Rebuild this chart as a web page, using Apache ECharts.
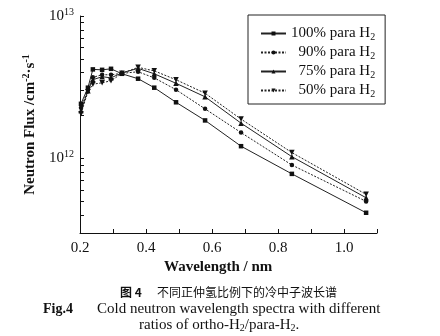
<!DOCTYPE html>
<html>
<head>
<meta charset="utf-8">
<script src="https://cdn.jsdelivr.net/npm/echarts@6/dist/echarts.min.js"></script>
<style>
  html, body { margin: 0; padding: 0; background: #fff; }
  #chart { width: 440px; height: 336px; }
</style>
</head>
<body>
<div id="chart"></div>
<script>
// Wavelength bins (nm)
var wavelength = [0.203, 0.224, 0.239, 0.267, 0.294, 0.327, 0.376, 0.425, 0.491, 0.579, 0.688, 0.842, 1.067];

// Neutron flux (cm^-2 s^-1) for each para-H2 fraction
var flux100 = [2.42e12, 3.14e12, 4.22e12, 4.19e12, 4.26e12, 3.93e12, 3.63e12, 3.14e12, 2.48e12, 1.85e12, 1.22e12, 7.8e11, 4.16e11];
var flux90  = [2.27e12, 3.04e12, 3.71e12, 3.87e12, 3.87e12, 3.96e12, 4.06e12, 3.68e12, 3.04e12, 2.23e12, 1.52e12, 9.0e11, 5.0e11];
var flux75  = [2.17e12, 2.99e12, 3.57e12, 3.75e12, 3.68e12, 3.99e12, 4.29e12, 3.93e12, 3.37e12, 2.71e12, 1.77e12, 1.03e12, 5.3e11];
var flux50  = [2.06e12, 2.94e12, 3.32e12, 3.40e12, 3.51e12, 3.96e12, 4.36e12, 4.12e12, 3.57e12, 2.87e12, 1.89e12, 1.10e12, 5.6e11];

var seriesNames = ['100% para H2', '90% para H2', '75% para H2', '50% para H2'];
var legendLabels = ['100% para H', '  90% para H', '  75% para H', '  50% para H'];

// Axis tick values
var xMin = 0.2, xMax = 1.1, xStep = 0.1;
var yMin = 3e11, yMax = 1e13;
var yLabelValues = [1e12, 1e13];
var yTickValues = [3e11, 4e11, 5e11, 6e11, 7e11, 8e11, 9e11, 1e12, 2e12, 3e12, 4e12, 5e12, 6e12, 7e12, 8e12, 9e12, 1e13];

var serif = '"Liberation Serif", "DejaVu Serif", serif';
var cjk = '"Noto Sans CJK SC", sans-serif';

function pairs(ys) {
  return wavelength.map(function (x, i) { return [x, ys[i]]; });
}

var styles = [
  { symbol: 'rect', size: 4.5, line: 'solid' },
  { symbol: 'circle', size: 4.5, line: [2, 1.5] },
  { symbol: 'triangle', size: 5.5, line: 'solid' },
  { symbol: 'path://M0,0 L10,0 L5,9 Z', size: 5.5, line: [2, 1.5] }
];
var datasets = [flux100, flux90, flux75, flux50];

var series = datasets.map(function (d, i) {
  return {
    name: seriesNames[i],
    type: 'line',
    data: pairs(d),
    symbol: styles[i].symbol,
    symbolSize: styles[i].size,
    showAllSymbol: true,
    itemStyle: { color: '#111' },
    lineStyle: { color: '#222', width: 1, type: styles[i].line },
    emphasis: { disabled: true },
    animation: false
  };
});

var chart = echarts.init(document.getElementById('chart'), null, { renderer: 'canvas' });

chart.setOption({
  backgroundColor: '#fff',
  animation: false,
  grid: { left: 80, right: 63, top: 16, bottom: 103, containLabel: false },
  legend: {
    orient: 'vertical',
    left: 248,
    top: 15,
    padding: [11, 10, 5, 12],
    borderColor: '#222',
    borderWidth: 1,
    itemWidth: 25,
    itemHeight: 5,
    itemGap: 3,
    selectedMode: false,
    data: seriesNames,
    formatter: function (name) {
      return '{t|' + legendLabels[seriesNames.indexOf(name)] + '}{s|2}';
    },
    textStyle: {
      color: '#111',
      rich: {
        t: { fontFamily: serif, fontSize: 15, color: '#111' },
        s: { fontFamily: serif, fontSize: 10, color: '#111', padding: [7, 0, 0, 0] }
      }
    }
  },
  xAxis: {
    type: 'value',
    min: xMin,
    max: xMax,
    interval: xStep,
    splitLine: { show: false },
    axisLine: { lineStyle: { color: '#111', width: 1 } },
    axisTick: { inside: true, length: 4, lineStyle: { color: '#111' } },
    axisLabel: {
      margin: 8,
      color: '#111',
      fontFamily: serif,
      fontSize: 15,
      formatter: function (v) {
        var k = Math.round(v * 10);
        return (k % 2 === 0) ? (k / 10).toFixed(1) : '';
      }
    }
  },
  yAxis: {
    type: 'log',
    logBase: 10,
    min: yMin,
    max: yMax,
    splitLine: { show: false },
    axisLine: { show: true, lineStyle: { color: '#111', width: 1 } },
    axisTick: { show: true, inside: true, length: 4, lineStyle: { color: '#111' }, customValues: yTickValues },
    axisLabel: {
      margin: 6,
      color: '#111',
      customValues: yLabelValues,
      formatter: function (v) {
        return '{b|10}{p|' + Math.round(Math.log10(v)) + '}';
      },
      rich: {
        b: { fontFamily: serif, fontSize: 15, color: '#111' },
        p: { fontFamily: serif, fontSize: 10, color: '#111', padding: [0, 0, 8, 0] }
      }
    },
    name: '{n|Neutron Flux /cm}{p|-2}{n|·s}{p|-1}',
    nameLocation: 'middle',
    nameRotate: 90,
    nameGap: 40,
    nameTextStyle: {
      rich: {
        n: { fontFamily: serif, fontSize: 15, fontWeight: 'bold', color: '#111' },
        p: { fontFamily: serif, fontSize: 10, fontWeight: 'bold', color: '#111', padding: [0, 0, 9, 0] }
      }
    }
  },
  graphic: [
    {
      type: 'text', left: 164, top: 260,
      style: { text: 'Wavelength / nm', font: 'bold 15px ' + serif, fill: '#111' }
    },
    {
      type: 'text', left: 120, top: 286,
      style: { text: '图 4', font: 'bold 12px ' + cjk, fill: '#111' }
    },
    {
      type: 'text', left: 157, top: 286,
      style: { text: '不同正仲氢比例下的冷中子波长谱', font: '12px ' + cjk, fill: '#111' }
    },
    {
      type: 'text', left: 43, top: 302,
      style: { text: 'Fig.4', font: 'bold 14px ' + serif, fill: '#111' }
    },
    {
      type: 'text', left: 97, top: 302,
      style: { text: 'Cold neutron wavelength spectra with different', font: '15px ' + serif, fill: '#111' }
    },
    {
      type: 'text', left: 139, top: 318,
      style: {
        text: '{t|ratios of ortho-H}{s|2}{t|/para-H}{s|2}{t|.}',
        fill: '#111',
        rich: {
          t: { font: '15px ' + serif, fill: '#111' },
          s: { font: '10px ' + serif, fill: '#111', padding: [6, 0, 0, 0] }
        }
      }
    }
  ],
  series: series
});
</script>
</body>
</html>
